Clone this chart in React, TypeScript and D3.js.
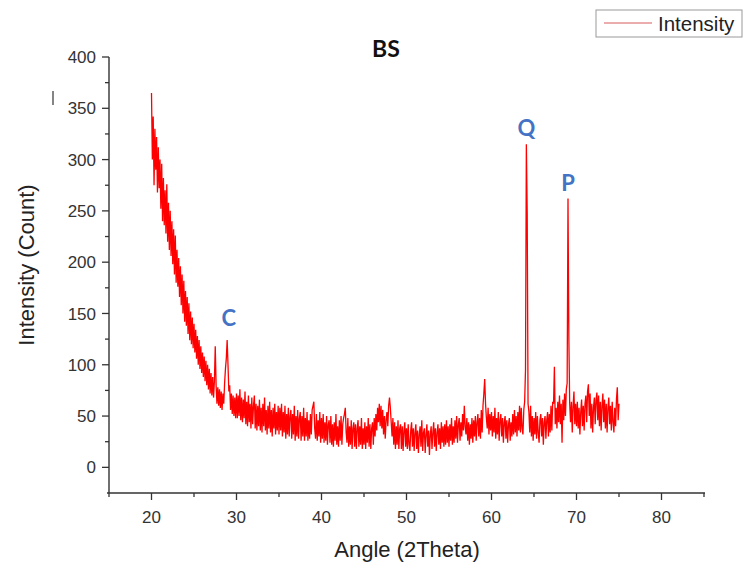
import React from "react";
import * as d3 from "d3";

// Sampling grid of the diffractogram (degrees 2θ)
const ANGLE_START = 20.0;
const ANGLE_STEP = 0.1;

// Intensity (counts), 0.1° steps, in 5° chunks
const seg20 = [365, 300, 342, 275, 330, 290, 322, 268, 312, 272, 300, 252, 296, 240, 282, 236, 270, 228, 276, 220, 258, 212, 250, 206, 240, 198, 232, 188, 226, 180, 212, 176, 204, 166, 196, 158, 188, 150, 182, 142, 172, 138, 166, 130, 160, 124, 152, 120, 146, 116];
const seg25 = [140, 112, 134, 106, 128, 100, 124, 96, 118, 92, 112, 88, 108, 84, 104, 80, 100, 76, 96, 72, 92, 70, 88, 68, 84, 118, 80, 62, 78, 60, 76, 58, 74, 56, 72, 62, 82, 96, 106, 124, 100, 74, 80, 56, 72, 52, 70, 50, 68, 48];
const seg30 = [72, 48, 70, 50, 76, 46, 68, 44, 66, 48, 74, 42, 64, 40, 70, 44, 62, 38, 68, 42, 60, 70, 38, 62, 36, 60, 40, 66, 36, 58, 34, 62, 40, 68, 36, 56, 32, 60, 38, 64, 34, 56, 30, 58, 38, 62, 32, 54, 36, 60];
const seg35 = [32, 58, 36, 62, 30, 54, 34, 60, 28, 52, 32, 58, 30, 50, 56, 28, 52, 32, 60, 26, 50, 30, 56, 28, 48, 54, 26, 50, 30, 58, 26, 48, 30, 54, 26, 46, 28, 52, 32, 56, 60, 64, 38, 28, 52, 26, 46, 30, 54, 24];
const seg40 = [48, 28, 52, 24, 44, 26, 50, 22, 42, 46, 24, 50, 22, 42, 20, 44, 26, 52, 22, 40, 20, 46, 26, 50, 22, 42, 48, 52, 58, 34, 24, 48, 20, 40, 22, 46, 18, 38, 44, 20, 42, 18, 38, 46, 20, 40, 22, 48, 18, 38];
const seg45 = [22, 44, 18, 40, 24, 48, 20, 42, 18, 38, 44, 22, 48, 30, 52, 36, 58, 44, 62, 40, 60, 38, 56, 32, 50, 28, 46, 54, 40, 60, 68, 58, 44, 30, 48, 22, 44, 18, 40, 22, 46, 18, 38, 42, 18, 40, 16, 36, 44, 20];
const seg50 = [38, 18, 42, 22, 16, 36, 44, 20, 38, 16, 34, 42, 18, 36, 14, 32, 40, 20, 46, 16, 34, 38, 14, 32, 42, 20, 36, 12, 32, 40, 18, 34, 44, 20, 38, 16, 34, 42, 22, 38, 18, 44, 24, 40, 20, 42, 22, 46, 24, 40];
const seg55 = [20, 42, 26, 48, 22, 40, 24, 46, 28, 50, 24, 42, 48, 26, 44, 30, 52, 36, 60, 40, 32, 48, 26, 44, 22, 42, 28, 48, 24, 46, 30, 50, 26, 44, 52, 30, 48, 28, 56, 34, 60, 72, 86, 62, 48, 38, 58, 32, 52, 36];
const seg60 = [54, 30, 50, 34, 58, 28, 48, 32, 54, 26, 46, 52, 30, 48, 24, 44, 50, 28, 46, 24, 42, 48, 26, 44, 30, 52, 32, 56, 34, 50, 30, 54, 36, 60, 34, 58, 38, 32, 56, 64, 95, 315, 248, 62, 54, 34, 60, 30, 50, 26];
const seg65 = [48, 32, 54, 28, 50, 34, 24, 46, 52, 30, 48, 22, 44, 50, 28, 46, 54, 30, 52, 34, 60, 36, 64, 62, 98, 42, 58, 38, 64, 44, 70, 42, 62, 24, 66, 46, 72, 50, 76, 82, 262, 127, 62, 44, 64, 34, 60, 74, 42, 62];
const seg70 = [40, 64, 38, 58, 32, 54, 66, 40, 60, 36, 62, 70, 44, 74, 81, 50, 72, 38, 62, 34, 58, 68, 42, 66, 73, 46, 70, 40, 64, 36, 60, 72, 44, 66, 38, 62, 34, 58, 68, 42, 60, 36, 64, 44, 34, 58, 40, 66, 78, 46, 62];

const intensity = [...seg20, ...seg25, ...seg30, ...seg35, ...seg40, ...seg45, ...seg50, ...seg55, ...seg60, ...seg65, ...seg70];

// Axes
const xDomain = [15, 85];
const yDomain = [-25, 400];
const xMajor = [20, 30, 40, 50, 60, 70, 80];
const xMinor = [15, 25, 35, 45, 55, 65, 75, 85];
const yMajor = [0, 50, 100, 150, 200, 250, 300, 350, 400];
const yMinor = [25, 75, 125, 175, 225, 275, 325, 375];

// Peak labels
const peakLabels = ["C", "Q", "P"];
const peakAngles = [29.1, 64.1, 69.0];
const peakValues = [124, 315, 262];

const W = 744;
const H = 566;
const L = 109;
const R = 704;
const T = 57;
const B = 493;

export default function App() {
  const x = d3.scaleLinear().domain(xDomain).range([L, R]);
  const y = d3.scaleLinear().domain(yDomain).range([B, T]);
  const pts: [number, number][] = intensity.map((v, i) => [ANGLE_START + i * ANGLE_STEP, v]);
  const line = d3
    .line<[number, number]>()
    .x((d) => x(d[0]))
    .y((d) => y(d[1]));

  const axisColor = "#333";
  const tickFont = "'Liberation Sans', Arial, sans-serif";
  const labelOffsets = [14, 8, 8];

  return (
    <svg
      width={W}
      height={H}
      style={{ position: "absolute", left: 0, top: 0, background: "#fff" }}
    >
      <rect x={0} y={0} width={W} height={H} fill="#fff" />

      {/* title */}
      <text x={386} y={57} textAnchor="middle" fontFamily="Lato, 'Open Sans', sans-serif" fontWeight={700} fontSize={23} fill="#111">
        BS
      </text>

      {/* data */}
      <path d={line(pts) || ""} fill="none" stroke="#ff0000" strokeWidth={1.3} strokeLinejoin="miter" />

      {/* axes */}
      <line x1={L} x2={L} y1={T} y2={B} stroke={axisColor} strokeWidth={1.4} />
      <line x1={L - 2} x2={R + 1} y1={B} y2={B} stroke={axisColor} strokeWidth={1.4} />

      {yMajor.map((v) => (
        <g key={"ym" + v}>
          <line x1={L - 7} x2={L} y1={y(v)} y2={y(v)} stroke={axisColor} strokeWidth={1.3} />
          <text x={L - 13} y={y(v)} dy="0.36em" textAnchor="end" fontFamily={tickFont} fontSize={17} fill="#333">
            {v}
          </text>
        </g>
      ))}
      {yMinor.map((v) => (
        <line key={"yn" + v} x1={L - 4} x2={L} y1={y(v)} y2={y(v)} stroke={axisColor} strokeWidth={1.3} />
      ))}
      {xMajor.map((v) => (
        <g key={"xm" + v}>
          <line x1={x(v)} x2={x(v)} y1={B} y2={B + 7} stroke={axisColor} strokeWidth={1.3} />
          <text x={x(v)} y={B + 30} textAnchor="middle" fontFamily={tickFont} fontSize={17} fill="#333">
            {v}
          </text>
        </g>
      ))}
      {xMinor.map((v) => (
        <line key={"xn" + v} x1={x(v)} x2={x(v)} y1={B} y2={B + 4} stroke={axisColor} strokeWidth={1.3} />
      ))}

      {/* axis titles */}
      <text x={407} y={557} textAnchor="middle" fontFamily={tickFont} fontSize={22} fill="#222">
        Angle (2Theta)
      </text>
      <text
        transform={`translate(34,265) rotate(-90)`}
        textAnchor="middle"
        fontFamily={tickFont}
        fontSize={22}
        fill="#222"
      >
        Intensity (Count)
      </text>

      {/* stray mark */}
      <line x1={53} x2={53} y1={91} y2={105} stroke="#333" strokeWidth={1.2} />

      {/* peak labels */}
      {peakLabels.map((lab, i) => (
        <text
          key={lab}
          x={x(peakAngles[i])}
          y={y(peakValues[i]) - labelOffsets[i]}
          textAnchor="middle"
          fontFamily="Lato, 'Open Sans', sans-serif"
          fontWeight={700}
          fontSize={22}
          fill="#4472c4"
        >
          {lab}
        </text>
      ))}

      {/* legend */}
      <rect x={596} y={10} width={146} height={27} fill="#fff" stroke="#999" strokeWidth={1} />
      <line x1={604} x2={652} y1={23} y2={23} stroke="#d65a5a" strokeWidth={1.2} />
      <text x={658} y={31} fontFamily={tickFont} fontSize={20.5} fill="#222">
        Intensity
      </text>
    </svg>
  );
}
